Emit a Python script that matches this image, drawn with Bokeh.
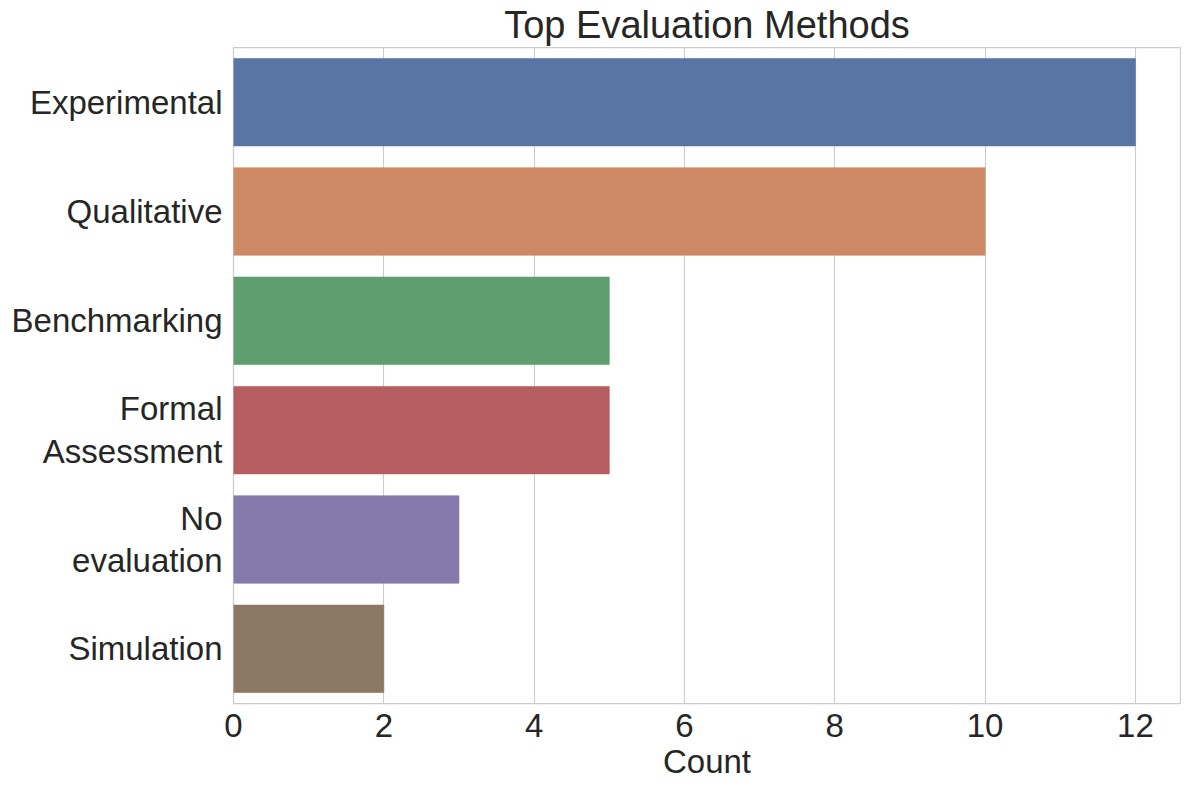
from bokeh.plotting import figure
from bokeh.models import FactorRange, Range1d, FixedTicker, ColumnDataSource
from bokeh.embed import file_html
from bokeh.resources import INLINE

methods = ["Experimental", "Qualitative", "Benchmarking", "Formal\nAssessment", "No\nevaluation", "Simulation"]
counts = [12, 10, 5, 5, 3, 2]
colors = ["#5975a4", "#cc8963", "#5f9e6e", "#b55d60", "#857aab", "#8d7866"]
x_ticks = [0, 2, 4, 6, 8, 10, 12]

FONT = "Liberation Sans"
TXT = "#262626"

src = ColumnDataSource(dict(method=methods, count=counts, color=colors))

p = figure(
    width=1181, height=782,
    y_range=FactorRange(factors=list(reversed(methods))),
    x_range=Range1d(0, 12.6),
    output_backend="svg", toolbar_location=None,
    title="Top Evaluation Methods",
    min_border_left=233, min_border_right=1, min_border_bottom=79, min_border_top=0,
)

p.hbar(y="method", right="count", left=0, height=0.8, fill_color="color",
       line_color="color", line_alpha=0.6, line_width=1, source=src)

p.title.text_font = FONT
p.title.text_font_size = "38px"
p.title.text_font_style = "normal"
p.title.text_color = TXT
p.title.align = "center"
p.title.standoff = 3

p.xaxis.ticker = FixedTicker(ticks=x_ticks)
p.xaxis.axis_label = "Count"
for ax in (p.xaxis[0], p.yaxis[0]):
    ax.major_label_text_font = FONT
    ax.major_label_text_font_size = "33px"
    ax.major_label_text_color = TXT
    ax.axis_line_color = None
    ax.major_tick_line_color = None
    ax.minor_tick_line_color = None
p.yaxis.major_label_text_line_height = 1.15
p.xaxis.major_label_text_line_height = 1.0
p.xaxis.axis_label_text_line_height = 1.0
p.xaxis.axis_label_text_font = FONT
p.xaxis.axis_label_text_font_size = "33px"
p.xaxis.axis_label_text_font_style = "normal"
p.xaxis.axis_label_text_color = TXT
p.xaxis.major_label_standoff = 4
p.xaxis.axis_label_standoff = 3
p.yaxis.major_label_standoff = 5

p.xgrid.grid_line_color = "#cccccc"
p.xgrid.grid_line_width = 1.1
p.ygrid.grid_line_color = None
p.outline_line_color = "#cccccc"
p.outline_line_width = 1.25
p.background_fill_color = "white"
p.border_fill_color = "white"

open("out.html", "w").write(file_html(p, INLINE))
